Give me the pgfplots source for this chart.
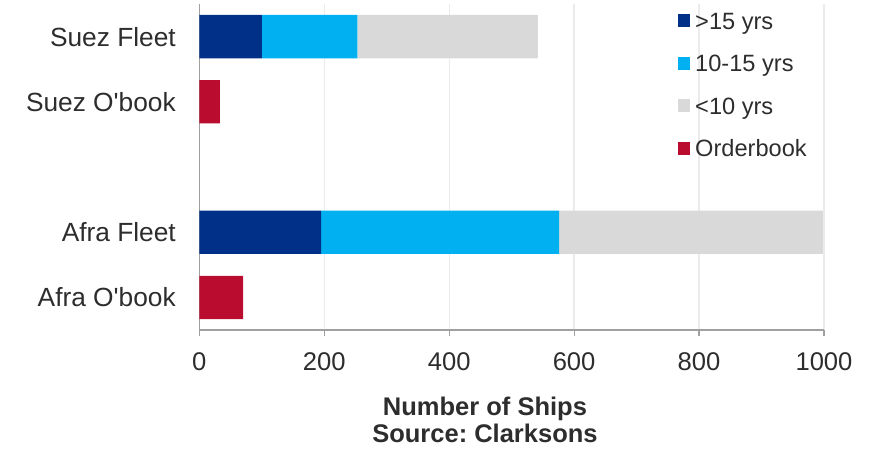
\documentclass[border=0pt]{standalone}
\usepackage{pgfplots}
\pgfplotsset{compat=1.18}
\usepackage{fontspec}
\setmainfont{Liberation Sans}
\frenchspacing
\definecolor{c1}{RGB}{0,48,135}
\definecolor{c2}{RGB}{0,176,240}
\definecolor{c3}{RGB}{217,217,217}
\definecolor{c4}{RGB}{186,12,47}
\definecolor{txt}{RGB}{45,45,45}
\definecolor{axgray}{RGB}{160,160,160}
\definecolor{gridgray}{RGB}{235,235,235}
\pgfplotsset{myleg/.style={legend image code/.code={\fill[##1] (0bp,-6.5bp) rectangle (12.7bp,6.5bp);}}}
\begin{document}
\begin{tikzpicture}
\path[use as bounding box] (-199.3bp,-121bp) rectangle (679.7bp,330bp);
\begin{axis}[
  at={(0,0)}, anchor=south west,
  scale only axis, width=624.7bp, height=326bp,
  xbar stacked, bar width=43.3bp,
  xmin=0, xmax=1000, ymin=-0.5, ymax=4.5,
  xtick={0,200,400,600,800,1000},
  ytick={0,1,3,4},
  yticklabels={Afra O\textquotesingle book, Afra Fleet, Suez O\textquotesingle book, Suez Fleet},
  axis x line*=bottom, axis y line*=left,
  x axis line style={draw=axgray, line width=1.2bp},
  y axis line style={draw=axgray, line width=1.2bp},
  xmajorgrids, grid style={draw=gridgray, line width=1.3bp},
  xtick style={draw=axgray, line width=1.2bp},
  major tick length=6bp, tick align=outside, xtick pos=bottom,
  ytick style={draw=none},
  /pgf/number format/1000 sep={},
  /pgf/number format/assume math mode=true,
  xticklabel style={font=\fontsize{25.6bp}{28bp}\selectfont, text=txt, yshift=-13bp},
  yticklabel style={font=\fontsize{26.3bp}{28bp}\selectfont, text=txt, xshift=-14bp},
  xlabel={Number of Ships\\Source: Clarksons},
  xlabel style={font=\bfseries\fontsize{25.5bp}{27bp}\selectfont, align=center, text=txt,
    at={(axis description cs:0.4573,0)}, anchor=north, yshift=-63bp},
  legend style={at={(axis description cs:0.7652,0.9748)}, anchor=north west,
    draw=none, fill=none, inner sep=0pt, row sep=25.5bp,
    font=\fontsize{23.6bp}{26bp}\selectfont, text=txt,
    nodes={inner sep=0pt, text height=17bp, text depth=0pt},
    /tikz/column sep=5bp},
  legend cell align=left,
]
\addplot[fill=c1, draw=none, myleg] coordinates {(100,4) (0,3) (195,1) (0,0)};
\addplot[fill=c2, draw=none, myleg] coordinates {(153,4) (0,3) (381,1) (0,0)};
\addplot[fill=c3, draw=none, myleg] coordinates {(289,4) (0,3) (422,1) (0,0)};
\addplot[fill=c4, draw=none, myleg] coordinates {(0,4) (33,3) (0,1) (70,0)};
\legend{>15 yrs, 10-15 yrs, <10 yrs, Orderbook}
\end{axis}
\end{tikzpicture}
\end{document}
